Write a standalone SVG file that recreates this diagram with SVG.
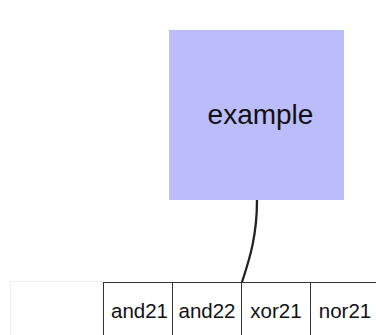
<svg xmlns="http://www.w3.org/2000/svg" width="376" height="335" viewBox="0 0 376 335">
<style>
.cell{fill:#fff;stroke:#333;stroke-width:1}
.lbl{font-family:"Liberation Sans",Arial,sans-serif;font-size:20.5px;fill:#111;text-anchor:middle}
</style>
<rect width="376" height="335" fill="#fff"/>
<g id="example">
<rect x="169" y="30" width="175" height="170" fill="#bbbdfb"/>
<text x="260.5" y="124" font-family="Liberation Sans, Arial, sans-serif" font-size="28" fill="#111" text-anchor="middle">example</text>
</g>
<g id="blank">
<rect x="10.5" y="281.5" width="92.5" height="60" fill="#fff" stroke="#eeeeee" stroke-width="1"/>
</g>
<g id="and21">
<rect class="cell" x="103.5" y="282.5" width="69" height="60"/>
<text class="lbl" x="139.5" y="318">and21</text>
</g>
<g id="and22">
<rect class="cell" x="172.5" y="282.5" width="69" height="60"/>
<text class="lbl" x="207" y="318">and22</text>
</g>
<g id="xor21">
<rect class="cell" x="241.5" y="282.5" width="69" height="60"/>
<text class="lbl" x="276" y="318">xor21</text>
</g>
<g id="nor21">
<rect class="cell" x="310.5" y="282.5" width="69" height="60"/>
<text class="lbl" x="345" y="318">nor21</text>
</g>
<g id="connectors">
<path d="M257,200 C257,235 250,258 242,282" fill="none" stroke="#222" stroke-width="2.3"/>
</g>
</svg>
